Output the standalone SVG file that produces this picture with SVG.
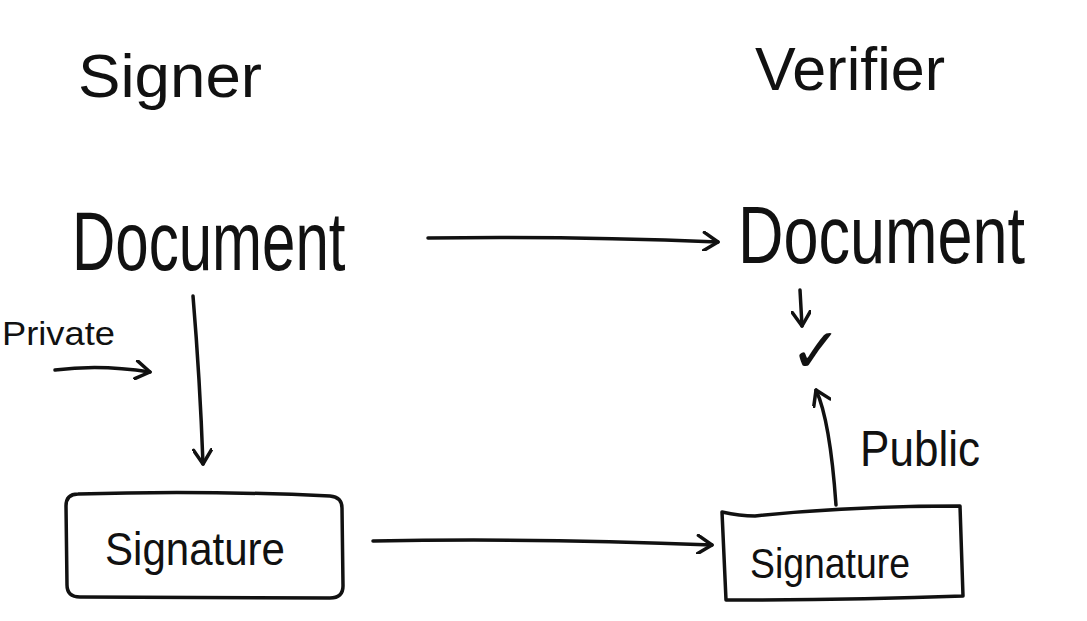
<svg xmlns="http://www.w3.org/2000/svg" width="1087" height="621" viewBox="0 0 1087 621">
<defs>
<style>
.t{font-family:"Liberation Sans","DejaVu Sans",sans-serif;fill:#111;}
.s{fill:none;stroke:#111;stroke-width:3.5;stroke-linecap:round;stroke-linejoin:round;}
</style>
<marker id="ah" viewBox="0 0 20 20" refX="16" refY="10" markerWidth="20" markerHeight="20" markerUnits="userSpaceOnUse" orient="auto">
<path d="M2,1 L16,10 L2,19" fill="none" stroke="#111" stroke-width="3.5" stroke-linecap="round" stroke-linejoin="round"/>
</marker>
</defs>
<rect width="1087" height="621" fill="#fff"/>
<g id="signer-title"><text class="t" x="78" y="97" font-size="62" textLength="184" lengthAdjust="spacingAndGlyphs">Signer</text></g>
<g id="verifier-title"><text class="t" x="755" y="90" font-size="62" textLength="190" lengthAdjust="spacingAndGlyphs">Verifier</text></g>
<g id="doc-left"><text class="t" transform="translate(72,270) scale(1,1.4)" x="0" y="0" font-size="60">Document</text></g>
<g id="doc-right"><text class="t" transform="translate(738,263) scale(1,1.3)" x="0" y="0" font-size="63">Document</text></g>
<g id="private-label"><text class="t" x="2" y="345" font-size="34" textLength="113" lengthAdjust="spacingAndGlyphs">Private</text></g>
<g id="public-label"><text class="t" x="860" y="466" font-size="50" textLength="120" lengthAdjust="spacingAndGlyphs">Public</text></g>
<g id="sig-left">
<path class="s" d="M78,494 Q66,494 66,506 L67,585 Q67,597 80,597 L330,598 Q343,598 343,586 L342,508 Q342,497 330,496 Q200,490 78,494 Z"/>
<text class="t" x="105" y="565" font-size="46" textLength="180" lengthAdjust="spacingAndGlyphs">Signature</text>
</g>
<g id="sig-right">
<path class="s" d="M722,512 Q740,516 755,516 Q850,506 960,506 L963,596 Q850,600 726,600 Z"/>
<text class="t" x="750" y="578" font-size="42" textLength="160" lengthAdjust="spacingAndGlyphs">Signature</text>
</g>
<g id="check"><text class="t" x="790" y="372" font-size="62" font-family="DejaVu Sans">✓</text></g>
<g id="connectors">
<path class="s" marker-end="url(#ah)" d="M428,238 Q570,236 718,242"/>
<path class="s" marker-end="url(#ah)" d="M193,296 Q200,380 203,464"/>
<path class="s" marker-end="url(#ah)" d="M55,370 Q100,364 150,372"/>
<path class="s" marker-end="url(#ah)" d="M373,541 Q540,538 712,545"/>
<path class="s" marker-end="url(#ah)" d="M800,290 L802,326"/>
<path class="s" marker-end="url(#ah)" d="M836,505 Q830,420 816,390"/>
</g>
</svg>
